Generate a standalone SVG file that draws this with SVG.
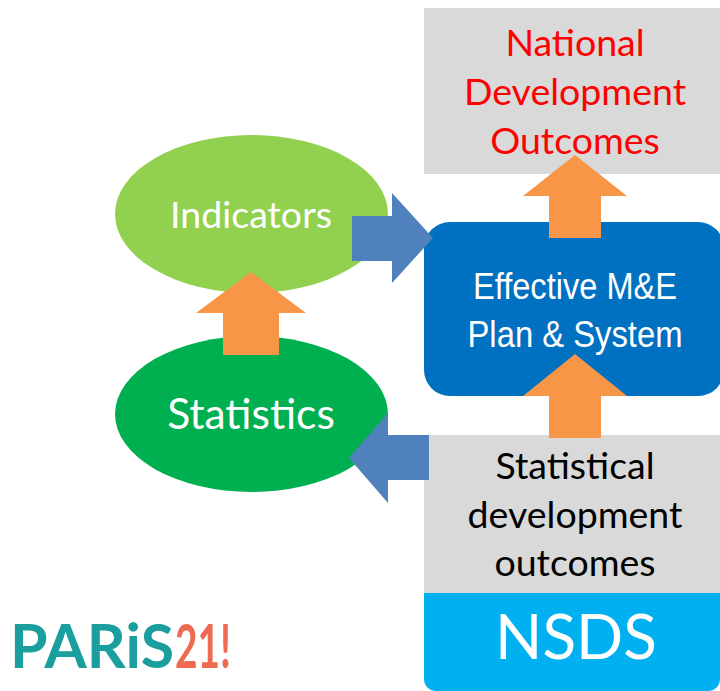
<svg xmlns="http://www.w3.org/2000/svg" width="720" height="691" viewBox="0 0 720 691">
<style>
text{font-family:"Lato","Open Sans","Liberation Sans",sans-serif;text-anchor:middle}
.l{font-size:37.5px}
.n{font-family:"Liberation Sans","Arial",sans-serif;font-size:36px;fill:#fff}
.o{fill:#f79646}
.b{fill:#4f81bd}
.logo{font-size:62px;font-weight:700;text-anchor:start}
</style>
<rect width="720" height="691" fill="#fff"/>
<g id="national">
<rect x="424" y="8" width="296" height="166" fill="#d9d9d9"/>
<text class="l" fill="#ff0000"><tspan x="575" y="56">National</tspan><tspan x="575" y="105">Development</tspan><tspan x="575" y="154">Outcomes</tspan></text>
</g>
<g id="indicators">
<ellipse cx="251.500" cy="214" rx="136.500" ry="79" fill="#92d050"/>
<text class="l" x="251" y="228" fill="#fff">Indicators</text>
</g>
<g id="statistics">
<ellipse cx="251.500" cy="414" rx="136.500" ry="78" fill="#00b050"/>
<text x="251" y="429" fill="#fff" style="font-size:42.500px">Statistics</text>
</g>
<g id="me-plan">
<rect x="424" y="222" width="300" height="174" rx="26" fill="#0070c0"/>
<text class="n" x="575" y="299" textLength="204" lengthAdjust="spacingAndGlyphs">Effective M&amp;E</text>
<text class="n" x="575" y="347" textLength="215" lengthAdjust="spacingAndGlyphs">Plan &amp; System</text>
</g>
<g id="statistical-outcomes">
<rect x="424" y="435" width="296" height="158" fill="#d9d9d9"/>
<text class="l" fill="#000"><tspan x="575" y="479">Statistical</tspan><tspan x="575" y="528">development</tspan><tspan x="575" y="576">outcomes</tspan></text>
</g>
<g id="nsds">
<path d="M424 593H720V679a12 12 0 0 1-12 12H436a12 12 0 0 1-12-12Z" fill="#00b0f0"/>
<text x="576" y="659" fill="#fff" style="font-size:62px">NSDS</text>
</g>
<g id="connectors">
<path class="o" d="M575 155L627 196H601V238H549V196H523Z"/>
<path class="o" d="M575 354L627 396H601V438H549V396H523Z"/>
<path class="o" d="M251 272L306 313H279V355H223V313H196Z"/>
<path class="b" d="M433 238L392 193V216H352V261H392V283Z"/>
<path class="b" d="M349 458L388 413V435H429V480H388V503Z"/>
</g>
<g id="logo">
<text class="logo" x="10" y="668" fill="#1b9e9e" textLength="164" lengthAdjust="spacingAndGlyphs">PARiS</text>
<text class="logo" x="175" y="668" fill="#ee6a50" textLength="56" lengthAdjust="spacingAndGlyphs">21!</text>
</g>
</svg>
